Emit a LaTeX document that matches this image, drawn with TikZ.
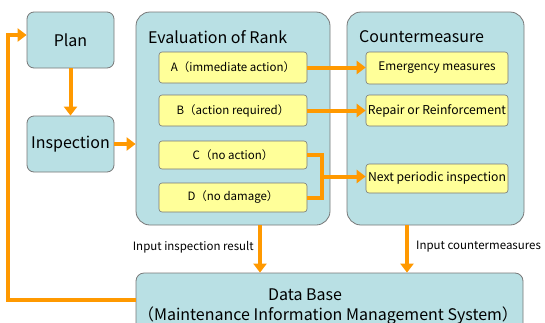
\documentclass[tikz,border=0pt]{standalone}
\usepackage{fontspec}
\setmainfont{Noto Sans CJK JP}
\usetikzlibrary{arrows.meta}
\definecolor{boxblue}{RGB}{185,224,228}
\definecolor{boxyellow}{RGB}{255,255,153}
\definecolor{edgegray}{RGB}{120,120,120}
\definecolor{arr}{RGB}{255,153,0}
\tikzset{
  bigbox/.style={draw=edgegray, fill=boxblue, rounded corners=14pt, line width=0.8pt},
  smallbox/.style={draw=edgegray, fill=boxblue, rounded corners=7pt, line width=0.8pt, font=\fontsize{16}{18}\selectfont},
  ybox/.style={draw=edgegray, fill=boxyellow, rounded corners=3pt, line width=0.6pt, font=\fontsize{11.5}{13}\selectfont, inner sep=0pt},
  title/.style={font=\fontsize{16}{18}\selectfont, anchor=west, inner sep=0pt},
  conn/.style={draw=arr, line width=4pt},
  arrow/.style={conn, -{Triangle[length=9pt,width=13pt]}},
  lbl/.style={font=\fontsize{11.5}{13}\selectfont, inner sep=0pt}
}
\begin{document}
\begin{tikzpicture}[x=1pt,y=-1pt]
\clip (0,0) rectangle (545,322);
\fill[white] (0,0) rectangle (545,322);
% Left boxes
\node[smallbox, minimum width=87pt, minimum height=56pt] (plan) at (70.5,40) {Plan};
\node[smallbox, minimum width=87pt, minimum height=56pt] (insp) at (70.5,144) {Inspection};
% Evaluation
\node[bigbox, minimum width=194pt, minimum height=213pt] (eval) at (233,118.5) {};
\node[title] (evalt) at (148,37) {Evaluation of Rank};
\node[ybox, minimum width=148pt, minimum height=31pt] (A) at (233,67.5) {A（immediate action）};
\node[ybox, minimum width=148pt, minimum height=31pt] (B) at (233,110.5) {B（action required）};
\node[ybox, minimum width=148pt, minimum height=28pt] (C) at (233,155) {C（no action）};
\node[ybox, minimum width=148pt, minimum height=29pt] (D) at (233,197.5) {D（no damage）};
% Countermeasure
\node[bigbox, minimum width=177pt, minimum height=213pt] (cm) at (435.5,118.5) {};
\node[title] (cmt) at (359,37) {Countermeasure};
\node[ybox, minimum width=142pt, minimum height=32pt, font=\fontsize{11.8}{13}\selectfont] (E) at (437,68) {Emergency measures};
\node[ybox, minimum width=142pt, minimum height=31pt, font=\fontsize{12.2}{13}\selectfont] (R) at (437,110.5) {Repair or Reinforcement};
\node[ybox, minimum width=142pt, minimum height=29pt, font=\fontsize{12.2}{13}\selectfont] (N) at (437,178.5) {Next periodic inspection};
% Data base
\node[bigbox, rounded corners=8pt, minimum width=387pt, minimum height=70pt] (db) at (329.5,308) {};
\node[font=\fontsize{16}{18}\selectfont, inner sep=0pt] (dbt1) at (305,295) {Data Base};
\node[font=\fontsize{16}{18}\selectfont, inner sep=0pt] (dbt2) at (328,316) {（Maintenance Information Management System）};
% Arrows
\draw[arrow] (plan.south) -- (insp.north);
\draw[arrow] (insp.east) -- (eval.west |- insp.east);
\draw[arrow] (A.east) -- (E.west |- A.east);
\draw[arrow] (B.east) -- (R.west |- B.east);
\coordinate (cd) at (322,176.5);
\draw[conn, line join=miter] (C.east) -- (322,155) -- (322,197.5) -- (D.east);
\draw[arrow] (cd) -- (N.west |- cd);
\coordinate (ev) at (260,0);
\coordinate (cv) at (407,0);
\draw[arrow] (ev |- eval.south) -- (ev |- db.north);
\draw[arrow] (cv |- cm.south) -- (cv |- db.north);
\coordinate (loopb) at (8,300);
\coordinate (loopt) at (8,35);
\draw[conn, line join=miter, -{Triangle[length=9pt,width=13pt]}] (db.west |- loopb) -- (loopb) -- (loopt) -- (plan.west |- loopt);
% Labels
\node[lbl, anchor=east] (l1) at (254,247) {Input inspection result};
\node[lbl, anchor=west] (l2) at (416,247) {Input countermeasures};
\end{tikzpicture}
\end{document}
